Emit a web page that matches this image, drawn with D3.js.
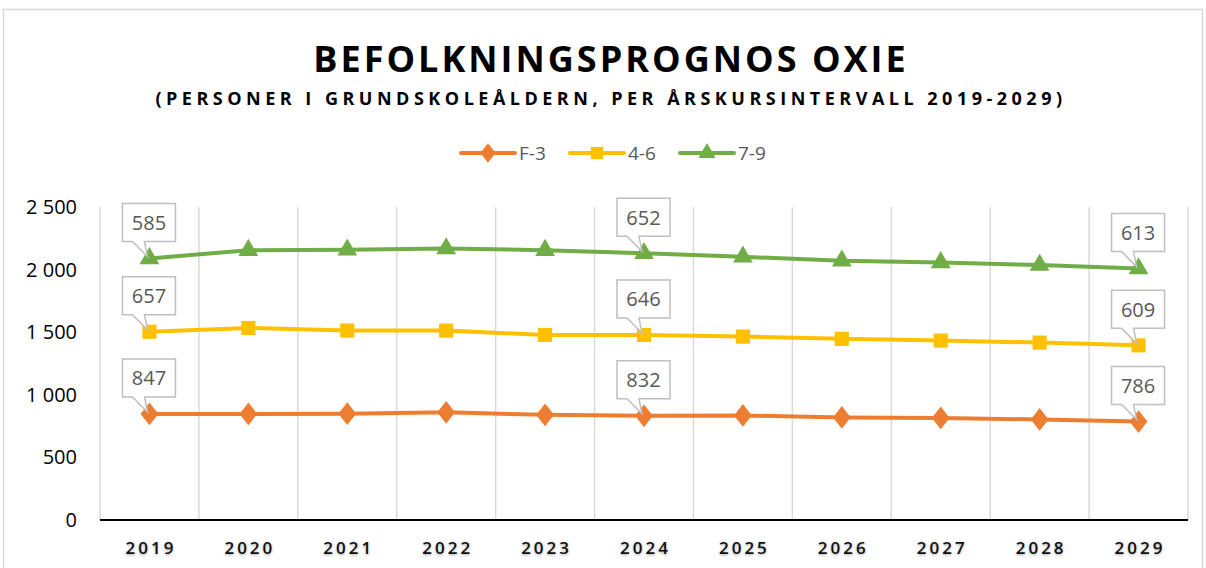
<!DOCTYPE html>
<html lang="sv">
<head>
  <meta charset="UTF-8">
  <title>Befolkningsprognos Oxie</title>
  <script src="https://d3js.org/d3.v7.min.js"></script>
  <style>
    html, body { margin:0; background:#fff; }
    svg { display:block; font-family:"Open Sans", "Noto Sans", sans-serif; }
    .grid line { stroke:#d9d9d9; stroke-width:1.5px; }
    .ylab { font-size:20px; fill:#000; }
    .xlab { font-size:17px; fill:#111; font-weight:600; letter-spacing:3px;
            text-shadow:0 1px 3px rgba(0,0,0,0.35); }
    .callout rect, .callout path { fill:#fff; stroke:#bfbfbf; stroke-width:1.5px; }
    .callout text { font-size:20px; fill:#595959; }
    .legend text { font-size:19px; fill:#595959; }
  </style>
</head>
<body>
<svg id="chart" width="1206" height="568"></svg>
<script>
const years = ["2019","2020","2021","2022","2023","2024","2025","2026","2027","2028","2029"];
const seriesNames = ["F-3", "4-6", "7-9"];
const f3  = [847, 847, 849, 860, 840, 832, 835, 819, 815, 803, 786];
const g46 = [657, 687, 664, 653, 638, 646, 630, 628, 618, 614, 609];
const g79 = [585, 621, 645, 655, 677, 652, 637, 623, 624, 619, 613];
const yTicks = [0, 500, 1000, 1500, 2000, 2500];
const labelled = ["2019", "2024", "2029"];
const colors = ["#ED7D31", "#FFC000", "#70AD47"];

const svg = d3.select("#chart");
const m = {left:100, right:1188, top:207, bottom:520};

// frame
svg.append("rect").attr("x",3.5).attr("y",9.5).attr("width",1199).attr("height",600)
  .attr("fill","#fff").attr("stroke","#d9d9d9").attr("stroke-width",1.5);

// titles
svg.append("text").attr("x",611).attr("y",72).attr("text-anchor","middle")
  .style("font-size","36px").style("font-weight","700").style("letter-spacing","3px")
  .text("BEFOLKNINGSPROGNOS OXIE");
svg.append("text").attr("x",611).attr("y",105).attr("text-anchor","middle")
  .style("font-size","18px").style("font-weight","700").style("letter-spacing","4.5px")
  .text("(PERSONER I GRUNDSKOLEÅLDERN, PER ÅRSKURSINTERVALL 2019-2029)");

const table = years.map((y,i) => ({year:y, "F-3":f3[i], "4-6":g46[i], "7-9":g79[i]}));
const stacked = d3.stack().keys(seriesNames)(table);

const x = d3.scaleBand().domain(years).range([m.left, m.right]);
const y = d3.scaleLinear().domain([0,2500]).range([m.bottom, m.top]);
const cx = d => x(d) + x.bandwidth()/2;

// vertical gridlines at category edges
const edges = years.map(d => x(d)).concat([m.right]);
svg.append("g").attr("class","grid").selectAll("line").data(edges).join("line")
  .attr("x1",d=>d).attr("x2",d=>d).attr("y1",m.top).attr("y2",m.bottom);

// axis line
svg.append("line").attr("x1",m.left).attr("x2",m.right).attr("y1",y(0)).attr("y2",y(0))
  .attr("stroke","#000").attr("stroke-width",1.8);

// y labels
const fmt = v => d3.format(",")(v).replace(",", " ");
svg.append("g").selectAll("text").data(yTicks).join("text").attr("class","ylab")
  .attr("x",77).attr("y",d=>y(d)).attr("dy","0.35em").attr("text-anchor","end").text(fmt);

// x labels
svg.append("g").selectAll("text").data(years).join("text").attr("class","xlab")
  .attr("x",d=>cx(d)+1.5).attr("y",554).attr("text-anchor","middle").text(d=>d);

const symbols = [d3.symbolDiamond, d3.symbolSquare, d3.symbolTriangle];
const sizes = [150, 200, 170];

stacked.forEach((s,k) => {
  const line = d3.line().x(d=>cx(d.data.year)).y(d=>y(d[1]));
  svg.append("path").datum(s).attr("d",line).attr("fill","none")
    .attr("stroke",colors[k]).attr("stroke-width",4).attr("stroke-linejoin","round");
  svg.append("g").selectAll("path").data(s).join("path")
    .attr("transform",d=>`translate(${cx(d.data.year)},${y(d[1])})` + (k===0 ? " scale(1.35,1)" : ""))
    .attr("d", d3.symbol().type(symbols[k]).size(sizes[k]))
    .attr("fill",colors[k]);
});

// callouts
stacked.forEach((s,k) => {
  s.filter(d => labelled.includes(d.data.year)).forEach(d => {
    const px = cx(d.data.year), py = y(d[1]);
    const bw = 53, bh = 38, bx = px - bw/2 - 0.5, bb = py - 17, bt = bb - bh;
    const g = svg.append("g").attr("class","callout");
    g.append("path").attr("d",
      `M${bx},${bt}H${bx+bw}V${bb}H${bx+22}L${px-2},${py-2}L${bx+10},${bb}H${bx}Z`);
    g.append("text").attr("x",bx+bw/2).attr("y",bt+bh/2).attr("dy","0.36em")
      .attr("text-anchor","middle").text(d.data[seriesNames[k]]);
  });
});

// legend
const legX = [461, 570, 680];
const lg = svg.append("g").attr("class","legend");
seriesNames.forEach((n,k) => {
  const g = lg.append("g").attr("transform",`translate(${legX[k]},153)`);
  g.append("line").attr("x1",0).attr("x2",54).attr("stroke",colors[k]).attr("stroke-width",4)
    .attr("stroke-linecap","round");
  g.append("path").attr("transform",`translate(27,0)` + (k===0 ? " scale(1.35,1)" : ""))
    .attr("d", d3.symbol().type(symbols[k]).size(sizes[k]*0.75)).attr("fill",colors[k]);
  g.append("text").attr("x",58).attr("y",0).attr("dy","0.35em").text(n);
});
</script>
</body>
</html>
